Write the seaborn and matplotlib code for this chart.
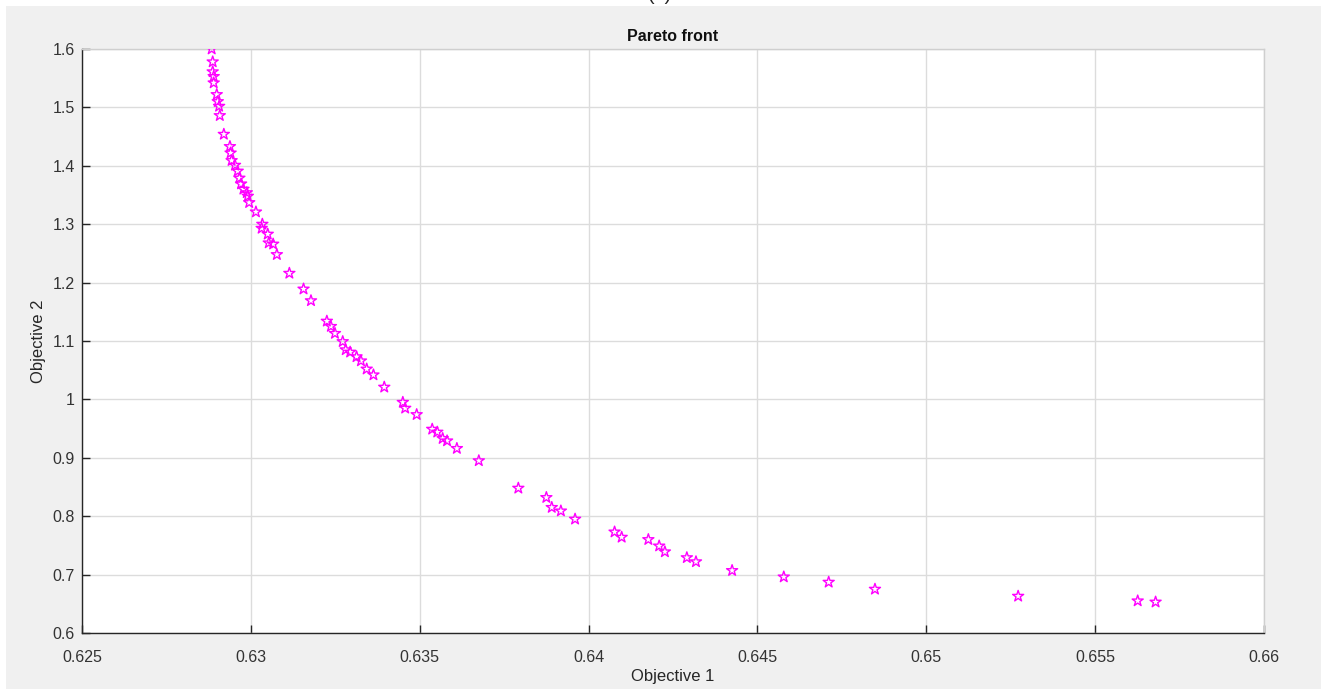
import numpy as np
import pandas as pd
import matplotlib
matplotlib.use("Agg")
import matplotlib.pyplot as plt
import seaborn as sns
from matplotlib.patches import Rectangle

objective1 = [0.62884, 0.62887, 0.62887, 0.62890, 0.62890, 0.62899, 0.62902, 0.62906, 0.62908, 0.62920,
              0.62938, 0.62940, 0.62943, 0.62953, 0.62961, 0.62966, 0.62971, 0.62978, 0.62988, 0.62991,
              0.62995, 0.63015, 0.63034, 0.63032, 0.63050, 0.63053, 0.63066, 0.63077, 0.63114, 0.63156,
              0.63178, 0.63225, 0.63237, 0.63249, 0.63272, 0.63281, 0.63294, 0.63313, 0.63326, 0.63343,
              0.63363, 0.63395, 0.63450, 0.63457, 0.63491, 0.63537, 0.63552, 0.63568, 0.63581, 0.63610,
              0.63675, 0.63792, 0.63875, 0.63891, 0.63918, 0.63960, 0.64077, 0.64098, 0.64177, 0.64209,
              0.64226, 0.64291, 0.64318, 0.64425, 0.64578, 0.64711, 0.64848, 0.65272, 0.65626, 0.65679]
objective2 = [1.600, 1.578, 1.561, 1.553, 1.542, 1.522, 1.510, 1.502, 1.486, 1.454,
              1.433, 1.422, 1.409, 1.401, 1.391, 1.379, 1.369, 1.360, 1.354, 1.348,
              1.337, 1.321, 1.300, 1.293, 1.283, 1.268, 1.266, 1.248, 1.216, 1.189,
              1.169, 1.134, 1.125, 1.113, 1.099, 1.085, 1.081, 1.073, 1.066, 1.052,
              1.042, 1.021, 0.995, 0.985, 0.974, 0.949, 0.944, 0.933, 0.929, 0.916,
              0.895, 0.848, 0.832, 0.815, 0.809, 0.795, 0.773, 0.764, 0.760, 0.749,
              0.739, 0.729, 0.722, 0.707, 0.696, 0.687, 0.675, 0.663, 0.655, 0.653]

xticks = [0.625, 0.63, 0.635, 0.64, 0.645, 0.65, 0.655, 0.66]
xtick_labels = ["0.625", "0.63", "0.635", "0.64", "0.645", "0.65", "0.655", "0.66"]
yticks = [0.6, 0.7, 0.8, 0.9, 1.0, 1.1, 1.2, 1.3, 1.4, 1.5, 1.6]
ytick_labels = ["0.6", "0.7", "0.8", "0.9", "1", "1.1", "1.2", "1.3", "1.4", "1.5", "1.6"]

df = pd.DataFrame({"Objective 1": objective1, "Objective 2": objective2})

sns.set_style("white")
plt.rcParams['font.family'] = ['Liberation Sans', 'DejaVu Sans']

W, H = 1321, 689
fig = plt.figure(figsize=(W / 100, H / 100), dpi=100, facecolor="white")
# grey figure area (MATLAB style), white strip on top and left
bg = Rectangle((6 / W, 0), 1 - 6 / W, 1 - 6 / H, transform=fig.transFigure,
               facecolor="#f0f0f0", edgecolor="none", zorder=-10)
fig.patches.append(bg)
fig.text(660 / W, 1 + 4 / H, "(a)", ha="center", va="center", fontsize=14, color="#222222", zorder=5)

ax = fig.add_axes([82 / W, 1 - 633 / H, (1264 - 82) / W, (633 - 49) / H])
ax.set_zorder(2)
ax.set_facecolor("white")

sns.scatterplot(data=df, x="Objective 1", y="Objective 2", ax=ax, marker="*", s=70,
                facecolors="none", edgecolors="#ff00ff", linewidth=1.0, legend=False, zorder=3)

ax.set_xlim(0.625, 0.66)
ax.set_ylim(0.6, 1.6)
ax.set_xticks(xticks)
ax.set_xticklabels(xtick_labels)
ax.set_yticks(yticks)
ax.set_yticklabels(ytick_labels)

ax.grid(True, color="#dcdcdc", linewidth=1.0)
ax.set_axisbelow(True)

for side in ["left", "bottom"]:
    ax.spines[side].set_color("#262626")
    ax.spines[side].set_linewidth(1.0)
for side in ["top", "right"]:
    ax.spines[side].set_color("#cfcfcf")
    ax.spines[side].set_linewidth(1.0)

ax.tick_params(axis="both", direction="in", length=6, width=1.0, color="#262626",
               labelsize=11.5, labelcolor="#333333", left=True, bottom=True, top=False, right=False)
ax.tick_params(axis="x", pad=12)
ax.tick_params(axis="y", pad=5)

ax.set_xlabel("Objective 1", fontsize=12, color="#262626", labelpad=3)
ax.set_ylabel("Objective 2", fontsize=12, color="#262626", labelpad=5)
ax.set_title("Pareto front", fontsize=11.5, fontweight="bold", color="#111111", pad=6)

fig.savefig("out.png", dpi=100, facecolor=fig.get_facecolor())
